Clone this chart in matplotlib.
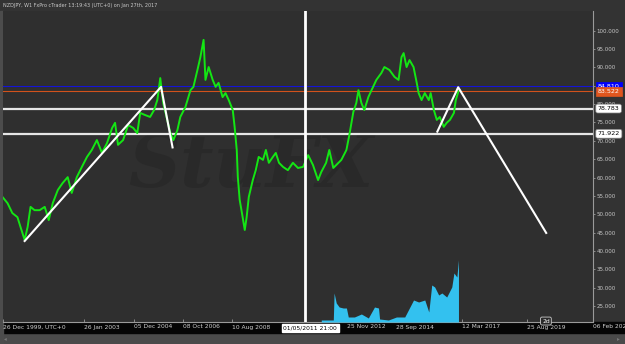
import matplotlib
matplotlib.use("Agg")
import matplotlib.pyplot as plt
import matplotlib.transforms as mtransforms
from matplotlib.patches import Rectangle

# NZDJPY weekly (decimal years / price)
years = [2000.02, 2000.21, 2000.39, 2000.58, 2000.73, 2000.85, 2000.96, 2001.07, 2001.22, 2001.41,
         2001.60, 2001.75, 2001.90, 2002.09, 2002.27, 2002.46, 2002.61, 2002.80, 2002.99, 2003.18,
         2003.36, 2003.55, 2003.74, 2003.93, 2004.12, 2004.23, 2004.34, 2004.53, 2004.72, 2004.91,
         2005.06, 2005.17, 2005.36, 2005.54, 2005.69, 2005.81, 2005.92, 2006.03, 2006.18, 2006.30,
         2006.41, 2006.56, 2006.67, 2006.86, 2007.05, 2007.16, 2007.31, 2007.42, 2007.54, 2007.61,
         2007.73, 2007.88, 2007.99, 2008.10, 2008.25, 2008.36, 2008.48, 2008.63, 2008.70, 2008.78,
         2008.82, 2008.89, 2009.00, 2009.08, 2009.15, 2009.23, 2009.38, 2009.49, 2009.60, 2009.76,
         2009.87, 2009.98, 2010.13, 2010.24, 2010.36, 2010.51, 2010.69, 2010.88, 2011.07, 2011.26,
         2011.45, 2011.63, 2011.82, 2011.94, 2012.12, 2012.24, 2012.39, 2012.50, 2012.69, 2012.88,
         2012.99, 2013.14, 2013.25, 2013.33, 2013.44, 2013.55, 2013.70, 2013.82, 2014.00, 2014.19,
         2014.30, 2014.49, 2014.68, 2014.83, 2014.94, 2015.02, 2015.13, 2015.24, 2015.39, 2015.51,
         2015.58, 2015.69, 2015.81, 2015.96, 2016.03, 2016.15, 2016.26, 2016.37, 2016.52, 2016.63,
         2016.75, 2016.90, 2016.97, 2017.07]
prices = [54.7, 53.0, 50.3, 49.2, 45.7, 43.0, 46.5, 52.0, 51.1, 51.1,
          52.0, 48.4, 53.0, 56.6, 58.5, 60.1, 55.8, 60.1, 62.9, 65.6,
          67.5, 70.2, 66.7, 69.4, 73.5, 74.9, 68.9, 70.2, 74.3, 73.5,
          72.1, 77.6, 77.0, 76.5, 78.4, 81.1, 87.1, 80.3, 75.7, 72.1,
          70.2, 72.9, 76.5, 79.2, 83.8, 84.7, 89.3, 92.8, 97.5, 86.6,
          90.1, 86.6, 84.7, 85.8, 81.9, 83.0, 81.1, 78.4, 73.8, 67.5,
          60.1, 53.9, 49.2, 45.7, 49.2, 54.7, 59.3, 62.0, 65.6, 64.8,
          67.5, 64.0, 65.6, 66.7, 64.0, 62.9, 62.0, 64.0, 62.6, 62.9,
          66.1, 63.4, 59.3, 61.5, 64.0, 67.5, 62.6, 63.4, 64.8, 67.5,
          71.6, 77.9, 80.3, 83.8, 80.3, 78.4, 81.9, 83.8, 86.6, 88.5,
          90.1, 89.3, 87.4, 86.6, 92.8, 93.9, 90.1, 92.0, 90.1, 85.8,
          83.0, 81.1, 83.0, 81.1, 83.0, 78.4, 75.7, 76.5, 73.8, 74.9,
          75.7, 77.6, 81.1, 83.5]

vol_years = [2011.94, 2012.39, 2012.42, 2012.50, 2012.61, 2012.76, 2012.88, 2012.95, 2013.18, 2013.44,
             2013.70, 2013.93, 2014.08, 2014.12, 2014.45, 2014.75, 2015.06, 2015.39, 2015.58, 2015.81,
             2015.96, 2016.07, 2016.18, 2016.33, 2016.45, 2016.63, 2016.82, 2016.90, 2017.01, 2017.07]
volume = [2, 2, 29, 19, 15, 14, 14, 5, 5, 8, 4, 15, 14, 3, 2, 5, 5, 22, 20, 22,
          10, 37, 35, 27, 29, 25, 35, 49, 45, 62]

# drawn pattern lines
pattern1_x = [2000.85, 2005.95, 2006.38]
pattern1_y = [42.7, 84.7, 68.2]
pattern2_x = [2016.28, 2017.06, 2020.35]
pattern2_y = [72.5, 84.6, 44.9]

levels = [84.810, 83.522, 78.783, 71.922]
crosshair = 2011.33

tick_years = [2000.04, 2003.07, 2004.93, 2006.77, 2008.61, 2012.90, 2014.74, 2017.19, 2019.65, 2022.10]
tick_labels = ["26 Dec 1999, UTC+0", "26 Jan 2003", "05 Dec 2004", "08 Oct 2006", "10 Aug 2008",
               "25 Nov 2012", "28 Sep 2014", "12 Mar 2017", "25 Aug 2019", "06 Feb 2022"]
price_ticks = [25, 30, 35, 40, 45, 50, 55, 60, 65, 70, 75, 80, 85, 90, 95, 100]

W, H = 625, 344
fig = plt.figure(figsize=(W / 100, H / 100), dpi=100, facecolor="#333333")

# frame pieces
fig.add_artist(Rectangle((0, 0), 1, 11 / H, transform=fig.transFigure, color="#4a4a4a", zorder=-2))
fig.add_artist(Rectangle((0, 11 / H), 1, 11 / H, transform=fig.transFigure, color="#050505", zorder=-2))
fig.add_artist(Rectangle((0, 0), 3 / W, 1 - 11 / H, transform=fig.transFigure, color="#4c4c4c", zorder=-2))
fig.text(3 / W, 1 - 5 / H, "NZDJPY, W1 FxPro cTrader 13:19:43 (UTC+0) on Jan 27th, 2017",
         fontsize=3.5, color="#c8c8c8", va="center", ha="left")
fig.text(4 / W, 5 / H, "\u25c2", fontsize=4, color="#777777", va="center")
fig.text(617 / W, 5 / H, "\u25b8", fontsize=4, color="#777777", va="center")

ax = fig.add_axes([3 / W, 22 / H, 590 / W, 311 / H])
ax.set_facecolor("#2f2f2f")
ax.set_xlim(2000.04, 2022.10)
ax.set_ylim(20.63, 105.37)

# tick volume (twin made first, it resets the y ticks of ax)
ax2 = ax.twinx()
ax2.set_ylim(0, 311)
ax2.fill_between(vol_years, volume, color="#33c1ef", lw=0)
ax2.set_axis_off()

ax.text(0.42, 0.5, "StuFX", transform=ax.transAxes, fontsize=52, color="#292929",
        family="DejaVu Serif", style="italic", weight="bold", ha="center", va="center", zorder=0)

ax.axhline(levels[0], color="#1414d8", lw=0.8, zorder=2)
ax.axhline(levels[1], color="#d2521c", lw=0.8, zorder=2)
ax.axhline(levels[2], color="#e6e6e6", lw=1.6, zorder=2)
ax.axhline(levels[3], color="#e6e6e6", lw=1.6, zorder=2)

ax.plot(years, prices, color="#14e614", lw=1.4, zorder=3)
ax.plot(pattern1_x, pattern1_y, color="white", lw=1.5, zorder=4)
ax.plot(pattern2_x, pattern2_y, color="white", lw=1.5, zorder=4)
ax.axvline(crosshair, color="white", lw=2, zorder=5)

ax.set_yticks(price_ticks, [f"{p:.3f}" for p in price_ticks])
ax.yaxis.tick_right()
ax.yaxis.set_label_position("right")
ax.set_xticks(tick_years, tick_labels)
for lab in ax.get_xticklabels():
    lab.set_horizontalalignment("left")
ax.tick_params(axis="y", direction="out", length=1.5, pad=0.8, labelsize=4, colors="#9a9a9a",
               labelcolor="#c8c8c8", width=0.6, left=False, labelleft=False, right=True, labelright=True)
ax.tick_params(axis="x", direction="in", length=2, pad=1.8, labelsize=4.3, colors="#9a9a9a",
               labelcolor="#d0d0d0", width=0.6)
for side in ["top", "left"]:
    ax.spines[side].set_visible(False)
for side in ["right", "bottom"]:
    ax.spines[side].set_color("#9a9a9a")
    ax.spines[side].set_linewidth(0.8)

# price tags on the axis
tr = mtransforms.blended_transform_factory(ax.transAxes, ax.transData)
tags = [(levels[2], "78.783", "white", "black", "round,pad=0.3"),
        (levels[3], "71.922", "white", "black", "round,pad=0.3"),
        (levels[0], "84.810", "#0000ff", "white", "square,pad=0.3"),
        (levels[1], "83.522", "#e0561e", "white", "square,pad=0.3")]
for lvl, txt, bg, fg, style in tags:
    ax.text(1.008, lvl, txt, transform=tr, fontsize=4.6, color=fg, ha="left", va="center",
            clip_on=False, zorder=10,
            bbox=dict(boxstyle=style, fc=bg, ec="#888888" if bg == "white" else bg, lw=0.5))

# crosshair date label and period badge
trx = mtransforms.blended_transform_factory(ax.transData, ax.transAxes)
ax.text(crosshair + 0.2, -0.018, "01/05/2011 21:00", transform=trx, fontsize=4.3, color="black",
        ha="center", va="center", clip_on=False, zorder=10,
        bbox=dict(boxstyle="square,pad=0.25", fc="white", ec="white"))
ax.text(2020.34, 0.003, "2d", transform=trx, fontsize=4.3, color="white", ha="center", va="center",
        clip_on=False, zorder=10, bbox=dict(boxstyle="round,pad=0.25", fc="#2a2a2a", ec="#cccccc", lw=0.6))

fig.savefig("out.png", dpi=100, facecolor=fig.get_facecolor())
